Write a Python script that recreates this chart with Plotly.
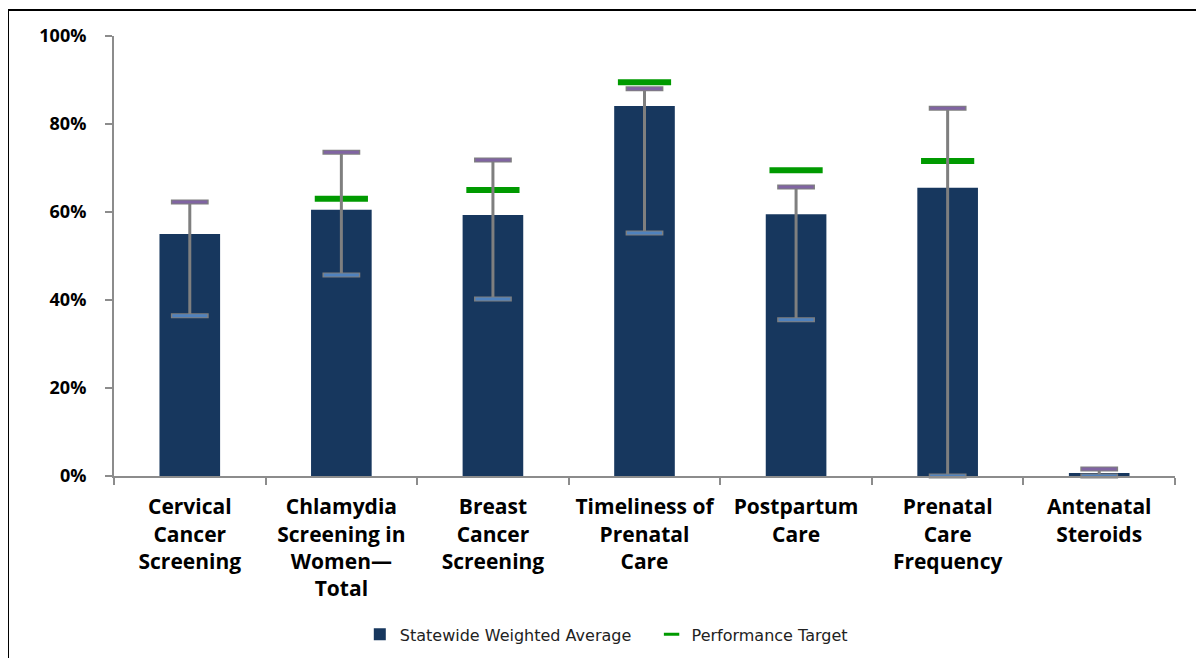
import plotly.graph_objects as go

# Measures, rates
categories = [
    "Cervical<br>Cancer<br>Screening",
    "Chlamydia<br>Screening in<br>Women—<br>Total",
    "Breast<br>Cancer<br>Screening",
    "Timeliness of<br>Prenatal<br>Care",
    "Postpartum<br>Care",
    "Prenatal<br>Care<br>Frequency",
    "Antenatal<br>Steroids",
]
statewide_avg = [0.550, 0.605, 0.593, 0.841, 0.595, 0.655, 0.007]
range_high = [0.623, 0.736, 0.718, 0.880, 0.657, 0.836, 0.016]
range_low = [0.364, 0.457, 0.402, 0.552, 0.355, 0.000, 0.000]
target_cats = categories[1:6]
performance_target = [0.630, 0.650, 0.895, 0.695, 0.716]

NAVY = "#17375E"
GRAY = "#7F7F7F"
GREEN = "#009A00"
PURPLE = "#8064A2"
BLUE = "#4F81BD"

fig = go.Figure()

fig.add_trace(go.Bar(
    x=categories, y=statewide_avg,
    name="Statewide Weighted Average\u00a0\u00a0\u00a0",
    marker=dict(color=NAVY, line=dict(width=0)),
))

fig.add_trace(go.Scatter(
    x=target_cats, y=performance_target,
    name="Performance Target",
    mode="markers",
    marker=dict(symbol="line-ew", size=38, line=dict(color=GREEN, width=6)),
    cliponaxis=False, showlegend=False,
))
# small legend swatch for the target
fig.add_trace(go.Scatter(
    x=[None], y=[None], name="Performance Target", mode="markers",
    marker=dict(symbol="line-ew", size=11, line=dict(color=GREEN, width=3)),
))

# vertical range stems
fig.add_trace(go.Scatter(
    x=categories, y=statewide_avg,
    mode="markers", marker=dict(opacity=0, size=1),
    error_y=dict(
        type="data", symmetric=False,
        array=[h - v for h, v in zip(range_high, statewide_avg)],
        arrayminus=[v - l for v, l in zip(statewide_avg, range_low)],
        thickness=3, width=0, color=GRAY,
    ),
    showlegend=False, hoverinfo="skip", cliponaxis=False,
))

# caps: gray outline then coloured fill
for yvals, fill in [(range_high, PURPLE), (range_low, BLUE)]:
    fig.add_trace(go.Scatter(
        x=categories, y=yvals, mode="markers",
        marker=dict(symbol="line-ew", size=27, line=dict(color=GRAY, width=5)),
        showlegend=False, hoverinfo="skip", cliponaxis=False,
    ))
    fig.add_trace(go.Scatter(
        x=categories, y=yvals, mode="markers",
        marker=dict(symbol="line-ew", size=25, line=dict(color=fill, width=3)),
        showlegend=False, hoverinfo="skip", cliponaxis=False,
    ))

fig.update_layout(
    width=1196, height=650,
    margin=dict(l=106, r=29, t=28, b=182, autoexpand=False),
    paper_bgcolor="white", plot_bgcolor="white",
    bargap=0.6,
    showlegend=True,
    legend=dict(
        orientation="h", x=0.464, xanchor="center", y=-0.36, yanchor="middle",
        font=dict(family="DejaVu Sans", size=16, color="#222"),
        itemwidth=30, traceorder="normal",
    ),
    font=dict(family="Open Sans"),
    shapes=[dict(
        type="rect", xref="paper", yref="paper",
        x0=-0.0999, x1=1.04, y0=-0.45, y1=1.059,
        line=dict(color="black", width=2), fillcolor="rgba(0,0,0,0)",
        layer="below",
    )],
)

fig.update_xaxes(
    showline=True, linecolor="#8C8C8C", linewidth=2,
    ticks="outside", ticklen=7, tickcolor="#8C8C8C", tickwidth=2,
    tickson="boundaries", showgrid=False, ticklabelstandoff=11,
    tickangle=0, automargin=False,
    tickfont=dict(family="Open Sans", size=21, color="black", weight="bold"),
)
fig.update_yaxes(
    range=[0, 1], tickvals=[0, 0.2, 0.4, 0.6, 0.8, 1.0], tickformat=".0%",
    showline=True, linecolor="#8C8C8C", linewidth=2,
    ticks="outside", ticklen=7, tickcolor="#8C8C8C", tickwidth=2,
    showgrid=False, zeroline=False, ticklabelstandoff=15, automargin=False,
    tickfont=dict(family="Open Sans", size=18, color="black", weight="bold"),
)

fig.write_html("out.html")
